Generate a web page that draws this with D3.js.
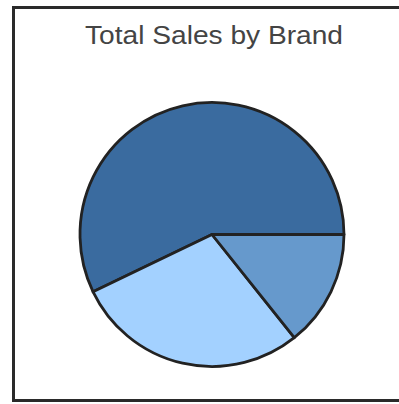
<!DOCTYPE html>
<html>
<head>
<meta charset="utf-8">
<script src="https://cdn.jsdelivr.net/npm/d3@7"></script>
<style>
  html, body { margin: 0; padding: 0; background: #fff; }
  svg { display: block; }
</style>
</head>
<body>
<svg id="chart" width="399" height="404"></svg>
<script>
// Sales totals per brand
const brands = ["Brand A", "Brand B", "Brand C"];
const sales = [400, 200, 100];
const colors = ["#3a6b9f", "#a3d1ff", "#6699cc"];

const svg = d3.select("#chart");

// Frame
svg.append("rect")
  .attr("x", 13.5).attr("y", 7.5)
  .attr("width", 420).attr("height", 393)
  .attr("fill", "none")
  .attr("stroke", "#2a2a2a")
  .attr("stroke-width", 3);

// Title
svg.append("text")
  .attr("x", 214).attr("y", 43.5)
  .attr("text-anchor", "middle")
  .attr("font-family", "'Liberation Sans', Arial, sans-serif")
  .attr("font-size", 26)
  .attr("textLength", 258)
  .attr("lengthAdjust", "spacingAndGlyphs")
  .attr("fill", "#444")
  .text("Total Sales by Brand");

const cx = 212, cy = 234.5, r = 132;

const color = d3.scaleOrdinal().domain(brands).range(colors);

// Slices run counter-clockwise starting at 3 o'clock
const pie = d3.pie()
  .sort(null)
  .value(d => d.value)
  .startAngle(Math.PI / 2)
  .endAngle(Math.PI / 2 - 2 * Math.PI);

const arc = d3.arc().innerRadius(0).outerRadius(r);

const data = brands.map((b, i) => ({ brand: b, value: sales[i] }));

svg.append("g")
  .attr("transform", `translate(${cx},${cy})`)
  .selectAll("path")
  .data(pie(data))
  .join("path")
  .attr("d", arc)
  .attr("fill", d => color(d.data.brand))
  .attr("stroke", "#222")
  .attr("stroke-width", 2.8)
  .attr("stroke-linejoin", "round");
</script>
</body>
</html>
